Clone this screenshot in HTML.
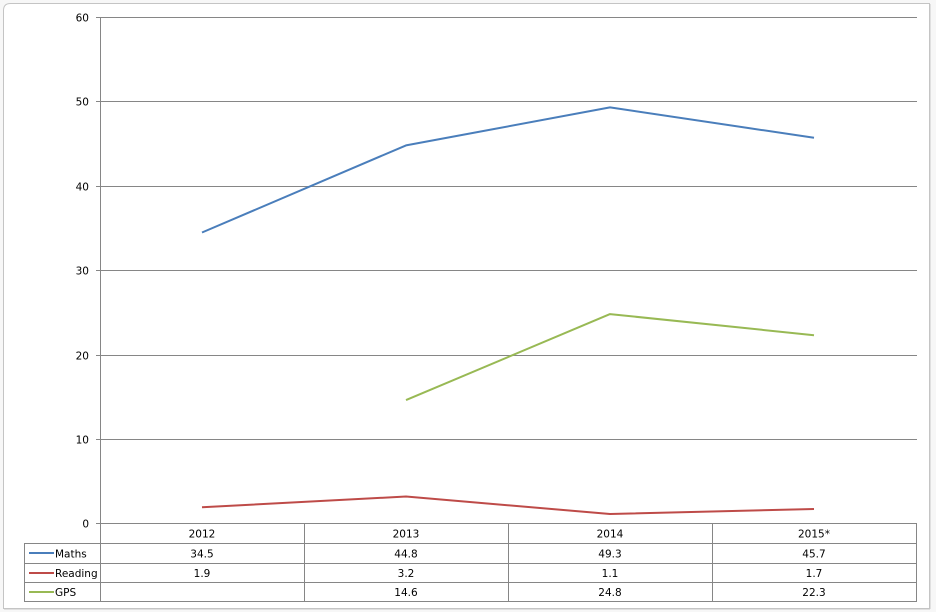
<!DOCTYPE html>
<html>
<head>
<meta charset="utf-8">
<style>
  html, body { margin:0; padding:0; background:#ffffff; }
  body { width:936px; height:612px; overflow:hidden; }
  svg { display:block; }
  text { font-family: "DejaVu Sans", "Liberation Sans", sans-serif; font-size:10.5px; fill:#000; }
</style>
</head>
<body>
<svg width="936" height="612" viewBox="0 0 936 612" xmlns="http://www.w3.org/2000/svg">
  <!-- outer frame -->
  <rect x="0" y="0" width="936" height="612" fill="#f7f7f7"/>
  <path d="M3.5 608.5 L3.5 10.5 Q3.5 3.5 10.5 3.5 L929.5 3.5 L929.5 608.5 Z" fill="#ffffff" stroke="#c4c4c4" stroke-width="1"/>
  <line x1="4" y1="609.5" x2="930" y2="609.5" stroke="#e0e0e0"/>
  <line x1="930.5" y1="4" x2="930.5" y2="609" stroke="#e0e0e0"/>

  <!-- gridlines -->
  <g stroke="#868686" stroke-width="1">
    <line x1="96" y1="17.5" x2="917" y2="17.5"/>
    <line x1="96" y1="101.5" x2="917" y2="101.5"/>
    <line x1="96" y1="186.5" x2="917" y2="186.5"/>
    <line x1="96" y1="270.5" x2="917" y2="270.5"/>
    <line x1="96" y1="355.5" x2="917" y2="355.5"/>
    <line x1="96" y1="439.5" x2="917" y2="439.5"/>
    <line x1="96" y1="523.5" x2="917" y2="523.5"/>
    <!-- y axis -->
    <line x1="100.5" y1="17" x2="100.5" y2="602"/>
  </g>

  <!-- y labels -->
  <g text-anchor="end">
    <text x="89" y="21.5">60</text>
    <text x="89" y="105.5">50</text>
    <text x="89" y="190.5">40</text>
    <text x="89" y="274.5">30</text>
    <text x="89" y="359.5">20</text>
    <text x="89" y="443.5">10</text>
    <text x="89" y="527.5">0</text>
  </g>

  <!-- data table -->
  <g stroke="#868686" stroke-width="1" fill="none">
    <line x1="24.5" y1="543.5" x2="917" y2="543.5"/>
    <line x1="24.5" y1="563.5" x2="917" y2="563.5"/>
    <line x1="24.5" y1="582.5" x2="917" y2="582.5"/>
    <line x1="24.5" y1="601.5" x2="917" y2="601.5"/>
    <line x1="24.5" y1="543" x2="24.5" y2="602"/>
    <line x1="304.5" y1="523" x2="304.5" y2="602"/>
    <line x1="508.5" y1="523" x2="508.5" y2="602"/>
    <line x1="712.5" y1="523" x2="712.5" y2="602"/>
    <line x1="916.5" y1="523" x2="916.5" y2="602"/>
  </g>

  <g text-anchor="middle">
    <text x="202" y="537.5">2012</text>
    <text x="406" y="537.5">2013</text>
    <text x="610" y="537.5">2014</text>
    <text x="814" y="537.5">2015*</text>

    <text x="202" y="557.5">34.5</text>
    <text x="406" y="557.5">44.8</text>
    <text x="610" y="557.5">49.3</text>
    <text x="814" y="557.5">45.7</text>

    <text x="202" y="577">1.9</text>
    <text x="406" y="577">3.2</text>
    <text x="610" y="577">1.1</text>
    <text x="814" y="577">1.7</text>

    <text x="406" y="596">14.6</text>
    <text x="610" y="596">24.8</text>
    <text x="814" y="596">22.3</text>
  </g>

  <!-- legend keys -->
  <line x1="29" y1="553" x2="54" y2="553" stroke="#4a7ebb" stroke-width="2"/>
  <line x1="29" y1="573" x2="54" y2="573" stroke="#be4b48" stroke-width="2"/>
  <line x1="29" y1="592" x2="54" y2="592" stroke="#98b954" stroke-width="2"/>
  <text x="55" y="557.5">Maths</text>
  <text x="55" y="577">Reading</text>
  <text x="55" y="596">GPS</text>

  <!-- series -->
  <polyline fill="none" stroke="#4a7ebb" stroke-width="2" stroke-linejoin="round"
    points="202,232.5 406,145.4 610,107.4 814,137.8"/>
  <polyline fill="none" stroke="#98b954" stroke-width="2" stroke-linejoin="round"
    points="406,400.1 610,314.1 814,335.2"/>
  <polyline fill="none" stroke="#be4b48" stroke-width="2" stroke-linejoin="round"
    points="202,507.3 406,496.5 610,514.0 814,509.0"/>
</svg>
</body>
</html>
